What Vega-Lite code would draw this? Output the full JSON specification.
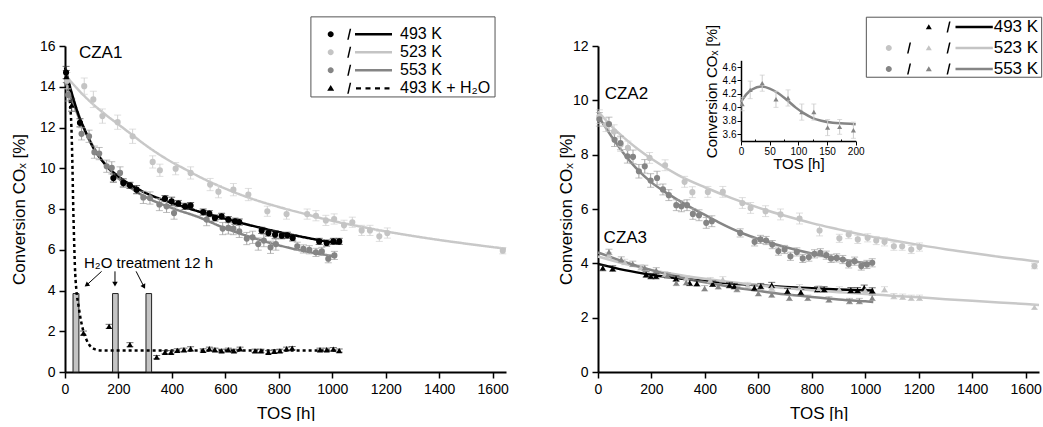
{
"$schema": "https://vega.github.io/schema/vega-lite/v6.json",
"background": "white",
"padding": {"left": 10, "top": 16, "right": 0, "bottom": 0},
"config": {
 "view": {"stroke": null},
 "font": "Liberation Sans",
 "axis": {"domainColor": "#000000", "domainWidth": 2, "tickColor": "#000000", "tickWidth": 1.5, "labelColor": "#000000", "labelFontSize": 14, "labelFont": "Liberation Sans", "titleFont": "Liberation Sans", "titleFontSize": 17, "titleFontWeight": "normal", "titleColor": "#000000", "grid": false, "labelFlush": false, "labelOverlap": false},
 "legend": {"labelFont": "Liberation Sans", "labelColor": "#000000"}
},
"datasets": {
 "bars": [{"start": 30, "end": 52}, {"start": 178, "end": 199}, {"start": 303, "end": 324}],
 "lpts": [
  {"s":"493 K","t":4,"v":14.7,"e":0.3},{"s":"493 K","t":56,"v":12.23,"e":0.2},{"s":"493 K","t":181,"v":9.52,"e":0.2},{"s":"493 K","t":218,"v":9.28,"e":0.2},{"s":"493 K","t":243,"v":9.16,"e":0.15},{"s":"493 K","t":268,"v":8.95,"e":0.2},{"s":"493 K","t":374,"v":8.51,"e":0.15},{"s":"493 K","t":399,"v":8.38,"e":0.2},{"s":"493 K","t":424,"v":8.27,"e":0.15},{"s":"493 K","t":449,"v":8.13,"e":0.15},{"s":"493 K","t":470,"v":8.17,"e":0.15},{"s":"493 K","t":517,"v":7.85,"e":0.15},{"s":"493 K","t":540,"v":7.77,"e":0.15},{"s":"493 K","t":561,"v":7.56,"e":0.15},{"s":"493 K","t":586,"v":7.64,"e":0.15},{"s":"493 K","t":611,"v":7.48,"e":0.15},{"s":"493 K","t":636,"v":7.4,"e":0.15},{"s":"493 K","t":652,"v":7.36,"e":0.15},{"s":"493 K","t":736,"v":6.95,"e":0.15},{"s":"493 K","t":761,"v":6.82,"e":0.15},{"s":"493 K","t":786,"v":6.74,"e":0.2},{"s":"493 K","t":811,"v":6.69,"e":0.15},{"s":"493 K","t":832,"v":6.71,"e":0.15},{"s":"493 K","t":852,"v":6.58,"e":0.15},{"s":"493 K","t":951,"v":6.41,"e":0.15},{"s":"493 K","t":979,"v":6.33,"e":0.15},{"s":"493 K","t":1004,"v":6.41,"e":0.15},{"s":"493 K","t":1026,"v":6.41,"e":0.15},
  {"s":"523 K","t":8,"v":14.3,"e":0.4},{"s":"523 K","t":72,"v":14.03,"e":0.4},{"s":"523 K","t":106,"v":13.38,"e":0.4},{"s":"523 K","t":140,"v":12.56,"e":0.35},{"s":"523 K","t":197,"v":12.26,"e":0.35},{"s":"523 K","t":253,"v":11.57,"e":0.35},{"s":"523 K","t":328,"v":10.31,"e":0.3},{"s":"523 K","t":355,"v":9.9,"e":0.3},{"s":"523 K","t":414,"v":9.98,"e":0.3},{"s":"523 K","t":470,"v":9.77,"e":0.3},{"s":"523 K","t":543,"v":9.2,"e":0.3},{"s":"523 K","t":574,"v":8.85,"e":0.3},{"s":"523 K","t":630,"v":8.95,"e":0.3},{"s":"523 K","t":686,"v":8.71,"e":0.3},{"s":"523 K","t":757,"v":7.89,"e":0.25},{"s":"523 K","t":829,"v":7.75,"e":0.25},{"s":"523 K","t":906,"v":7.75,"e":0.25},{"s":"523 K","t":939,"v":7.67,"e":0.25},{"s":"523 K","t":976,"v":7.44,"e":0.25},{"s":"523 K","t":1007,"v":7.51,"e":0.25},{"s":"523 K","t":1044,"v":7.2,"e":0.25},{"s":"523 K","t":1075,"v":7.35,"e":0.25},{"s":"523 K","t":1110,"v":6.95,"e":0.25},{"s":"523 K","t":1141,"v":6.95,"e":0.25},{"s":"523 K","t":1176,"v":6.66,"e":0.25},{"s":"523 K","t":1206,"v":6.82,"e":0.25},{"s":"523 K","t":1638,"v":5.95,"e":0.15},
  {"s":"553 K","t":12,"v":13.6,"e":0.3},{"s":"553 K","t":62,"v":11.69,"e":0.3},{"s":"553 K","t":90,"v":11.57,"e":0.3},{"s":"553 K","t":110,"v":10.79,"e":0.3},{"s":"553 K","t":128,"v":10.72,"e":0.3},{"s":"553 K","t":156,"v":10.1,"e":0.3},{"s":"553 K","t":175,"v":10.02,"e":0.3},{"s":"553 K","t":206,"v":9.77,"e":0.3},{"s":"553 K","t":293,"v":8.57,"e":0.3},{"s":"553 K","t":318,"v":8.54,"e":0.3},{"s":"553 K","t":353,"v":8.22,"e":0.3},{"s":"553 K","t":380,"v":8.13,"e":0.3},{"s":"553 K","t":408,"v":7.8,"e":0.3},{"s":"553 K","t":530,"v":7.48,"e":0.3},{"s":"553 K","t":590,"v":7.04,"e":0.3},{"s":"553 K","t":611,"v":7.07,"e":0.3},{"s":"553 K","t":630,"v":7.04,"e":0.3},{"s":"553 K","t":652,"v":6.9,"e":0.3},{"s":"553 K","t":680,"v":6.55,"e":0.3},{"s":"553 K","t":702,"v":6.61,"e":0.3},{"s":"553 K","t":723,"v":6.28,"e":0.3},{"s":"553 K","t":744,"v":6.45,"e":0.3},{"s":"553 K","t":769,"v":6.12,"e":0.3},{"s":"553 K","t":789,"v":6.28,"e":0.3},{"s":"553 K","t":869,"v":6.17,"e":0.2},{"s":"553 K","t":892,"v":6.04,"e":0.2},{"s":"553 K","t":914,"v":6.0,"e":0.2},{"s":"553 K","t":939,"v":5.87,"e":0.2},{"s":"553 K","t":961,"v":5.92,"e":0.2},{"s":"553 K","t":985,"v":5.56,"e":0.2},{"s":"553 K","t":1008,"v":5.72,"e":0.2},
  {"s":"493 K + H\u2082O","t":5,"v":14.5,"e":0.3},{"s":"493 K + H\u2082O","t":25,"v":13.1,"e":0.3},{"s":"493 K + H\u2082O","t":69,"v":1.91,"e":0.1},{"s":"493 K + H\u2082O","t":165,"v":2.24,"e":0.1},{"s":"493 K + H\u2082O","t":243,"v":1.34,"e":0.1},{"s":"493 K + H\u2082O","t":343,"v":0.73,"e":0.08},{"s":"493 K + H\u2082O","t":374,"v":0.97,"e":0.08},{"s":"493 K + H\u2082O","t":397,"v":0.97,"e":0.08},{"s":"493 K + H\u2082O","t":420,"v":1.06,"e":0.08},{"s":"493 K + H\u2082O","t":445,"v":1.09,"e":0.08},{"s":"493 K + H\u2082O","t":470,"v":1.14,"e":0.1},{"s":"493 K + H\u2082O","t":517,"v":1.06,"e":0.08},{"s":"493 K + H\u2082O","t":540,"v":1.14,"e":0.08},{"s":"493 K + H\u2082O","t":561,"v":1.09,"e":0.08},{"s":"493 K + H\u2082O","t":586,"v":1.04,"e":0.08},{"s":"493 K + H\u2082O","t":611,"v":1.09,"e":0.08},{"s":"493 K + H\u2082O","t":632,"v":1.04,"e":0.08},{"s":"493 K + H\u2082O","t":655,"v":1.14,"e":0.08},{"s":"493 K + H\u2082O","t":711,"v":1.04,"e":0.08},{"s":"493 K + H\u2082O","t":733,"v":1.04,"e":0.08},{"s":"493 K + H\u2082O","t":761,"v":0.97,"e":0.08},{"s":"493 K + H\u2082O","t":783,"v":1.01,"e":0.08},{"s":"493 K + H\u2082O","t":804,"v":1.04,"e":0.08},{"s":"493 K + H\u2082O","t":829,"v":1.14,"e":0.08},{"s":"493 K + H\u2082O","t":850,"v":1.17,"e":0.08},{"s":"493 K + H\u2082O","t":954,"v":1.09,"e":0.08},{"s":"493 K + H\u2082O","t":979,"v":1.09,"e":0.08},{"s":"493 K + H\u2082O","t":1004,"v":1.12,"e":0.08},{"s":"493 K + H\u2082O","t":1026,"v":1.05,"e":0.08}
 ],
 "lfit": [
  {"s":"523 K","t":0,"v":14.6},{"s":"523 K","t":50,"v":13.85},{"s":"523 K","t":100,"v":13.2},{"s":"523 K","t":150,"v":12.65},{"s":"523 K","t":200,"v":12.15},{"s":"523 K","t":250,"v":11.65},{"s":"523 K","t":300,"v":11.15},{"s":"523 K","t":350,"v":10.7},{"s":"523 K","t":400,"v":10.3},{"s":"523 K","t":450,"v":9.95},{"s":"523 K","t":500,"v":9.6},{"s":"523 K","t":600,"v":9.0},{"s":"523 K","t":700,"v":8.5},{"s":"523 K","t":800,"v":8.1},{"s":"523 K","t":900,"v":7.75},{"s":"523 K","t":1000,"v":7.42},{"s":"523 K","t":1100,"v":7.15},{"s":"523 K","t":1200,"v":6.9},{"s":"523 K","t":1300,"v":6.68},{"s":"523 K","t":1400,"v":6.48},{"s":"523 K","t":1500,"v":6.3},{"s":"523 K","t":1600,"v":6.13},{"s":"523 K","t":1650,"v":6.05},
  {"s":"553 K","t":0,"v":14.3},{"s":"553 K","t":25,"v":13.4},{"s":"553 K","t":50,"v":12.55},{"s":"553 K","t":75,"v":11.85},{"s":"553 K","t":100,"v":11.2},{"s":"553 K","t":150,"v":10.2},{"s":"553 K","t":200,"v":9.5},{"s":"553 K","t":250,"v":9.0},{"s":"553 K","t":300,"v":8.6},{"s":"553 K","t":400,"v":8.05},{"s":"553 K","t":500,"v":7.6},{"s":"553 K","t":600,"v":7.05},{"s":"553 K","t":700,"v":6.6},{"s":"553 K","t":800,"v":6.22},{"s":"553 K","t":900,"v":5.92},{"s":"553 K","t":1000,"v":5.68},{"s":"553 K","t":1010,"v":5.65},
  {"s":"493 K","t":0,"v":14.95},{"s":"493 K","t":25,"v":13.7},{"s":"493 K","t":50,"v":12.65},{"s":"493 K","t":75,"v":11.85},{"s":"493 K","t":100,"v":11.15},{"s":"493 K","t":150,"v":10.2},{"s":"493 K","t":200,"v":9.6},{"s":"493 K","t":250,"v":9.15},{"s":"493 K","t":300,"v":8.8},{"s":"493 K","t":400,"v":8.3},{"s":"493 K","t":500,"v":7.88},{"s":"493 K","t":600,"v":7.52},{"s":"493 K","t":700,"v":7.18},{"s":"493 K","t":800,"v":6.87},{"s":"493 K","t":900,"v":6.6},{"s":"493 K","t":1000,"v":6.36},{"s":"493 K","t":1030,"v":6.3},
  {"s":"493 K + H\u2082O","t":0,"v":14.8},{"s":"493 K + H\u2082O","t":10,"v":14.2},{"s":"493 K + H\u2082O","t":18,"v":13.3},{"s":"493 K + H\u2082O","t":24,"v":12},{"s":"493 K + H\u2082O","t":28,"v":10},{"s":"493 K + H\u2082O","t":31,"v":8},{"s":"493 K + H\u2082O","t":34,"v":6.5},{"s":"493 K + H\u2082O","t":37,"v":5.2},{"s":"493 K + H\u2082O","t":42,"v":4.1},{"s":"493 K + H\u2082O","t":50,"v":3.3},{"s":"493 K + H\u2082O","t":60,"v":2.5},{"s":"493 K + H\u2082O","t":70,"v":1.95},{"s":"493 K + H\u2082O","t":80,"v":1.6},{"s":"493 K + H\u2082O","t":90,"v":1.35},{"s":"493 K + H\u2082O","t":100,"v":1.2},{"s":"493 K + H\u2082O","t":115,"v":1.1},{"s":"493 K + H\u2082O","t":130,"v":1.06},{"s":"493 K + H\u2082O","t":150,"v":1.05},{"s":"493 K + H\u2082O","t":1030,"v":1.05}
 ],
 "rpts": [
  {"g":"CZA2","s":"523 K","t":5,"v":9.4,"e":0.25},{"g":"CZA2","s":"523 K","t":30,"v":9.1,"e":0.25},{"g":"CZA2","s":"523 K","t":60,"v":8.85,"e":0.25},{"g":"CZA2","s":"523 K","t":85,"v":8.37,"e":0.25},{"g":"CZA2","s":"523 K","t":112,"v":8.25,"e":0.25},{"g":"CZA2","s":"523 K","t":193,"v":7.88,"e":0.2},{"g":"CZA2","s":"523 K","t":251,"v":7.61,"e":0.2},{"g":"CZA2","s":"523 K","t":324,"v":7.0,"e":0.2},{"g":"CZA2","s":"523 K","t":353,"v":6.62,"e":0.2},{"g":"CZA2","s":"523 K","t":411,"v":6.63,"e":0.2},{"g":"CZA2","s":"523 K","t":467,"v":6.63,"e":0.2},{"g":"CZA2","s":"523 K","t":540,"v":6.22,"e":0.2},{"g":"CZA2","s":"523 K","t":571,"v":6.04,"e":0.2},{"g":"CZA2","s":"523 K","t":627,"v":5.92,"e":0.2},{"g":"CZA2","s":"523 K","t":683,"v":5.8,"e":0.2},{"g":"CZA2","s":"523 K","t":754,"v":5.65,"e":0.2},{"g":"CZA2","s":"523 K","t":829,"v":5.21,"e":0.2},{"g":"CZA2","s":"523 K","t":903,"v":4.92,"e":0.15},{"g":"CZA2","s":"523 K","t":938,"v":5.06,"e":0.15},{"g":"CZA2","s":"523 K","t":972,"v":4.88,"e":0.15},{"g":"CZA2","s":"523 K","t":1009,"v":4.94,"e":0.15},{"g":"CZA2","s":"523 K","t":1041,"v":4.84,"e":0.15},{"g":"CZA2","s":"523 K","t":1072,"v":4.79,"e":0.15},{"g":"CZA2","s":"523 K","t":1107,"v":4.63,"e":0.15},{"g":"CZA2","s":"523 K","t":1138,"v":4.63,"e":0.15},{"g":"CZA2","s":"523 K","t":1172,"v":4.51,"e":0.15},{"g":"CZA2","s":"523 K","t":1203,"v":4.6,"e":0.15},{"g":"CZA2","s":"523 K","t":1633,"v":3.9,"e":0.1},
  {"g":"CZA2","s":"553 K","t":5,"v":9.3,"e":0.25},{"g":"CZA2","s":"553 K","t":41,"v":9.13,"e":0.25},{"g":"CZA2","s":"553 K","t":62,"v":8.55,"e":0.25},{"g":"CZA2","s":"553 K","t":84,"v":8.43,"e":0.25},{"g":"CZA2","s":"553 K","t":110,"v":7.94,"e":0.25},{"g":"CZA2","s":"553 K","t":131,"v":7.92,"e":0.25},{"g":"CZA2","s":"553 K","t":153,"v":7.39,"e":0.25},{"g":"CZA2","s":"553 K","t":175,"v":7.57,"e":0.25},{"g":"CZA2","s":"553 K","t":197,"v":7.05,"e":0.25},{"g":"CZA2","s":"553 K","t":221,"v":7.14,"e":0.25},{"g":"CZA2","s":"553 K","t":243,"v":6.72,"e":0.2},{"g":"CZA2","s":"553 K","t":265,"v":6.51,"e":0.2},{"g":"CZA2","s":"553 K","t":293,"v":6.14,"e":0.2},{"g":"CZA2","s":"553 K","t":312,"v":6.1,"e":0.2},{"g":"CZA2","s":"553 K","t":333,"v":6.14,"e":0.2},{"g":"CZA2","s":"553 K","t":355,"v":5.82,"e":0.2},{"g":"CZA2","s":"553 K","t":378,"v":5.77,"e":0.2},{"g":"CZA2","s":"553 K","t":405,"v":5.49,"e":0.2},{"g":"CZA2","s":"553 K","t":426,"v":5.55,"e":0.2},{"g":"CZA2","s":"553 K","t":532,"v":5.12,"e":0.15},{"g":"CZA2","s":"553 K","t":586,"v":4.79,"e":0.15},{"g":"CZA2","s":"553 K","t":608,"v":4.88,"e":0.15},{"g":"CZA2","s":"553 K","t":629,"v":4.84,"e":0.15},{"g":"CZA2","s":"553 K","t":652,"v":4.69,"e":0.15},{"g":"CZA2","s":"553 K","t":675,"v":4.45,"e":0.15},{"g":"CZA2","s":"553 K","t":698,"v":4.51,"e":0.15},{"g":"CZA2","s":"553 K","t":720,"v":4.26,"e":0.15},{"g":"CZA2","s":"553 K","t":744,"v":4.42,"e":0.15},{"g":"CZA2","s":"553 K","t":766,"v":4.18,"e":0.15},{"g":"CZA2","s":"553 K","t":789,"v":4.23,"e":0.15},{"g":"CZA2","s":"553 K","t":810,"v":4.35,"e":0.15},{"g":"CZA2","s":"553 K","t":832,"v":4.39,"e":0.15},{"g":"CZA2","s":"553 K","t":854,"v":4.3,"e":0.15},{"g":"CZA2","s":"553 K","t":872,"v":4.18,"e":0.15},{"g":"CZA2","s":"553 K","t":893,"v":4.2,"e":0.15},{"g":"CZA2","s":"553 K","t":916,"v":4.14,"e":0.15},{"g":"CZA2","s":"553 K","t":938,"v":3.98,"e":0.15},{"g":"CZA2","s":"553 K","t":960,"v":4.08,"e":0.15},{"g":"CZA2","s":"553 K","t":985,"v":3.9,"e":0.15},{"g":"CZA2","s":"553 K","t":1006,"v":3.96,"e":0.15},{"g":"CZA2","s":"553 K","t":1026,"v":4.02,"e":0.15},
  {"g":"CZA3","s":"493 K","t":18,"v":3.83,"e":0.1},{"g":"CZA3","s":"493 K","t":55,"v":3.81,"e":0.1},{"g":"CZA3","s":"493 K","t":180,"v":3.59,"e":0.1},{"g":"CZA3","s":"493 K","t":198,"v":3.53,"e":0.1},{"g":"CZA3","s":"493 K","t":217,"v":3.53,"e":0.1},{"g":"CZA3","s":"493 K","t":292,"v":3.44,"e":0.1},{"g":"CZA3","s":"493 K","t":343,"v":3.28,"e":0.1},{"g":"CZA3","s":"493 K","t":370,"v":3.26,"e":0.1},{"g":"CZA3","s":"493 K","t":429,"v":3.25,"e":0.1},{"g":"CZA3","s":"493 K","t":492,"v":3.2,"e":0.1},{"g":"CZA3","s":"493 K","t":510,"v":3.16,"e":0.1},{"g":"CZA3","s":"493 K","t":585,"v":3.1,"e":0.1},{"g":"CZA3","s":"493 K","t":609,"v":3.16,"e":0.1},{"g":"CZA3","s":"493 K","t":650,"v":3.2,"e":0.1},{"g":"CZA3","s":"493 K","t":709,"v":2.98,"e":0.1},{"g":"CZA3","s":"493 K","t":759,"v":2.94,"e":0.1},{"g":"CZA3","s":"493 K","t":821,"v":3.04,"e":0.1},{"g":"CZA3","s":"493 K","t":846,"v":3.04,"e":0.1},{"g":"CZA3","s":"493 K","t":946,"v":3.01,"e":0.1},{"g":"CZA3","s":"493 K","t":971,"v":3.01,"e":0.1},{"g":"CZA3","s":"493 K","t":996,"v":3.1,"e":0.1},{"g":"CZA3","s":"493 K","t":1026,"v":3.0,"e":0.1},
  {"g":"CZA3","s":"523 K","t":40,"v":4.3,"e":0.1},{"g":"CZA3","s":"523 K","t":100,"v":4.05,"e":0.1},{"g":"CZA3","s":"523 K","t":160,"v":3.85,"e":0.1},{"g":"CZA3","s":"523 K","t":250,"v":3.6,"e":0.1},{"g":"CZA3","s":"523 K","t":330,"v":3.45,"e":0.1},{"g":"CZA3","s":"523 K","t":420,"v":3.38,"e":0.1},{"g":"CZA3","s":"523 K","t":467,"v":3.41,"e":0.1},{"g":"CZA3","s":"523 K","t":560,"v":3.2,"e":0.1},{"g":"CZA3","s":"523 K","t":650,"v":3.1,"e":0.1},{"g":"CZA3","s":"523 K","t":754,"v":3.12,"e":0.1},{"g":"CZA3","s":"523 K","t":826,"v":3.08,"e":0.1},{"g":"CZA3","s":"523 K","t":903,"v":3.04,"e":0.1},{"g":"CZA3","s":"523 K","t":1000,"v":3.0,"e":0.1},{"g":"CZA3","s":"523 K","t":1072,"v":3.04,"e":0.1},{"g":"CZA3","s":"523 K","t":1107,"v":2.79,"e":0.1},{"g":"CZA3","s":"523 K","t":1140,"v":2.77,"e":0.1},{"g":"CZA3","s":"523 K","t":1172,"v":2.73,"e":0.1},{"g":"CZA3","s":"523 K","t":1203,"v":2.73,"e":0.1},{"g":"CZA3","s":"523 K","t":1633,"v":2.39,"e":0.08},
  {"g":"CZA3","s":"553 K","t":41,"v":4.42,"e":0.1},{"g":"CZA3","s":"553 K","t":87,"v":4.14,"e":0.1},{"g":"CZA3","s":"553 K","t":130,"v":3.98,"e":0.1},{"g":"CZA3","s":"553 K","t":175,"v":3.83,"e":0.1},{"g":"CZA3","s":"553 K","t":218,"v":3.74,"e":0.1},{"g":"CZA3","s":"553 K","t":260,"v":3.55,"e":0.1},{"g":"CZA3","s":"553 K","t":293,"v":3.28,"e":0.1},{"g":"CZA3","s":"553 K","t":330,"v":3.3,"e":0.1},{"g":"CZA3","s":"553 K","t":399,"v":3.08,"e":0.1},{"g":"CZA3","s":"553 K","t":450,"v":3.15,"e":0.1},{"g":"CZA3","s":"553 K","t":520,"v":3.05,"e":0.1},{"g":"CZA3","s":"553 K","t":600,"v":2.9,"e":0.1},{"g":"CZA3","s":"553 K","t":650,"v":2.85,"e":0.1},{"g":"CZA3","s":"553 K","t":716,"v":2.73,"e":0.1},{"g":"CZA3","s":"553 K","t":785,"v":2.73,"e":0.1},{"g":"CZA3","s":"553 K","t":864,"v":2.67,"e":0.1},{"g":"CZA3","s":"553 K","t":941,"v":2.61,"e":0.1},{"g":"CZA3","s":"553 K","t":978,"v":2.61,"e":0.1},{"g":"CZA3","s":"553 K","t":1026,"v":2.73,"e":0.1}
 ],
 "rfit": [
  {"g":"CZA2","s":"523 K","t":0,"v":9.6},{"g":"CZA2","s":"523 K","t":50,"v":9.05},{"g":"CZA2","s":"523 K","t":100,"v":8.6},{"g":"CZA2","s":"523 K","t":150,"v":8.2},{"g":"CZA2","s":"523 K","t":200,"v":7.85},{"g":"CZA2","s":"523 K","t":300,"v":7.25},{"g":"CZA2","s":"523 K","t":400,"v":6.8},{"g":"CZA2","s":"523 K","t":500,"v":6.4},{"g":"CZA2","s":"523 K","t":600,"v":6.05},{"g":"CZA2","s":"523 K","t":700,"v":5.75},{"g":"CZA2","s":"523 K","t":800,"v":5.48},{"g":"CZA2","s":"523 K","t":900,"v":5.25},{"g":"CZA2","s":"523 K","t":1000,"v":5.03},{"g":"CZA2","s":"523 K","t":1100,"v":4.85},{"g":"CZA2","s":"523 K","t":1200,"v":4.68},{"g":"CZA2","s":"523 K","t":1300,"v":4.52},{"g":"CZA2","s":"523 K","t":1400,"v":4.38},{"g":"CZA2","s":"523 K","t":1500,"v":4.24},{"g":"CZA2","s":"523 K","t":1600,"v":4.12},{"g":"CZA2","s":"523 K","t":1650,"v":4.06},
  {"g":"CZA2","s":"553 K","t":0,"v":9.45},{"g":"CZA2","s":"553 K","t":25,"v":9.05},{"g":"CZA2","s":"553 K","t":50,"v":8.68},{"g":"CZA2","s":"553 K","t":75,"v":8.33},{"g":"CZA2","s":"553 K","t":100,"v":8.0},{"g":"CZA2","s":"553 K","t":125,"v":7.7},{"g":"CZA2","s":"553 K","t":150,"v":7.43},{"g":"CZA2","s":"553 K","t":200,"v":6.98},{"g":"CZA2","s":"553 K","t":250,"v":6.63},{"g":"CZA2","s":"553 K","t":300,"v":6.33},{"g":"CZA2","s":"553 K","t":350,"v":6.04},{"g":"CZA2","s":"553 K","t":400,"v":5.78},{"g":"CZA2","s":"553 K","t":450,"v":5.52},{"g":"CZA2","s":"553 K","t":500,"v":5.28},{"g":"CZA2","s":"553 K","t":550,"v":5.07},{"g":"CZA2","s":"553 K","t":600,"v":4.9},{"g":"CZA2","s":"553 K","t":700,"v":4.6},{"g":"CZA2","s":"553 K","t":800,"v":4.36},{"g":"CZA2","s":"553 K","t":900,"v":4.17},{"g":"CZA2","s":"553 K","t":1000,"v":4.01},{"g":"CZA2","s":"553 K","t":1030,"v":3.98},
  {"g":"CZA3","s":"493 K","t":0,"v":3.98},{"g":"CZA3","s":"493 K","t":100,"v":3.75},{"g":"CZA3","s":"493 K","t":200,"v":3.58},{"g":"CZA3","s":"493 K","t":300,"v":3.45},{"g":"CZA3","s":"493 K","t":400,"v":3.35},{"g":"CZA3","s":"493 K","t":500,"v":3.26},{"g":"CZA3","s":"493 K","t":600,"v":3.19},{"g":"CZA3","s":"493 K","t":700,"v":3.13},{"g":"CZA3","s":"493 K","t":800,"v":3.08},{"g":"CZA3","s":"493 K","t":900,"v":3.04},{"g":"CZA3","s":"493 K","t":1000,"v":3.01},{"g":"CZA3","s":"493 K","t":1030,"v":3.0},
  {"g":"CZA3","s":"523 K","t":0,"v":4.25},{"g":"CZA3","s":"523 K","t":100,"v":3.98},{"g":"CZA3","s":"523 K","t":200,"v":3.76},{"g":"CZA3","s":"523 K","t":300,"v":3.58},{"g":"CZA3","s":"523 K","t":400,"v":3.43},{"g":"CZA3","s":"523 K","t":500,"v":3.3},{"g":"CZA3","s":"523 K","t":600,"v":3.19},{"g":"CZA3","s":"523 K","t":700,"v":3.09},{"g":"CZA3","s":"523 K","t":800,"v":3.01},{"g":"CZA3","s":"523 K","t":900,"v":2.94},{"g":"CZA3","s":"523 K","t":1000,"v":2.87},{"g":"CZA3","s":"523 K","t":1100,"v":2.81},{"g":"CZA3","s":"523 K","t":1200,"v":2.75},{"g":"CZA3","s":"523 K","t":1300,"v":2.68},{"g":"CZA3","s":"523 K","t":1400,"v":2.62},{"g":"CZA3","s":"523 K","t":1500,"v":2.56},{"g":"CZA3","s":"523 K","t":1600,"v":2.5},{"g":"CZA3","s":"523 K","t":1650,"v":2.47},
  {"g":"CZA3","s":"553 K","t":0,"v":4.4},{"g":"CZA3","s":"553 K","t":100,"v":4.05},{"g":"CZA3","s":"553 K","t":200,"v":3.75},{"g":"CZA3","s":"553 K","t":300,"v":3.5},{"g":"CZA3","s":"553 K","t":400,"v":3.3},{"g":"CZA3","s":"553 K","t":500,"v":3.13},{"g":"CZA3","s":"553 K","t":600,"v":2.99},{"g":"CZA3","s":"553 K","t":700,"v":2.86},{"g":"CZA3","s":"553 K","t":800,"v":2.76},{"g":"CZA3","s":"553 K","t":900,"v":2.67},{"g":"CZA3","s":"553 K","t":1000,"v":2.6},{"g":"CZA3","s":"553 K","t":1030,"v":2.58}
 ],
 "ipts": [{"t":2,"v":4.05,"e":0.1},{"t":16,"v":4.26,"e":0.13},{"t":37,"v":4.36,"e":0.12},{"t":61,"v":4.12,"e":0.12},{"t":82,"v":4.14,"e":0.12},{"t":106,"v":3.93,"e":0.12},{"t":127,"v":3.93,"e":0.12},{"t":151,"v":3.7,"e":0.12},{"t":172,"v":3.71,"e":0.11},{"t":196,"v":3.66,"e":0.12}],
 "ifit": [{"t":0,"v":4.08},{"t":10,"v":4.2},{"t":20,"v":4.27},{"t":35,"v":4.31},{"t":50,"v":4.28},{"t":65,"v":4.21},{"t":80,"v":4.11},{"t":95,"v":4.0},{"t":110,"v":3.91},{"t":125,"v":3.84},{"t":140,"v":3.8},{"t":160,"v":3.77},{"t":180,"v":3.76},{"t":200,"v":3.75}]
},
"bounds": "flush",
"spacing": 92,
"resolve": {"scale": {"color": "independent", "shape": "independent", "strokeDash": "independent"}},
"hconcat": [
 {
  "width": 441, "height": 326,
  "resolve": {"scale": {"color": "independent", "shape": "independent", "strokeDash": "independent"}},
  "layer": [
   {"data": {"name": "bars"}, "mark": {"type": "rect", "fill": "#c4c4c4", "stroke": "#222222", "strokeWidth": 1},
    "encoding": {"x": {"field": "start", "type": "quantitative", "title": "TOS [h]"}, "x2": {"field": "end"}, "y": {"datum": 0}, "y2": {"datum": 3.85}}},
   {"data": {"name": "lfit"}, "mark": {"type": "line", "strokeWidth": 2.5, "interpolate": "monotone"},
    "encoding": {
     "x": {"field": "t", "type": "quantitative", "scale": {"domain": [0, 1650], "nice": false, "zero": false},
      "axis": {"title": "TOS [h]", "format": "d", "values": [0,100,200,300,400,500,600,700,800,900,1000,1100,1200,1300,1400,1500,1600], "labelExpr": "datum.value % 200 == 0 ? datum.label : ''", "tickSize": {"condition": {"test": "datum.value % 200 != 0", "value": -4}, "value": 6}, "labelPadding": 4, "titlePadding": 9}},
     "y": {"field": "v", "type": "quantitative", "scale": {"domain": [0, 16], "nice": false},
      "axis": {"title": "Conversion CO\u2093 [%]", "format": "d", "values": [0,1,2,3,4,5,6,7,8,9,10,11,12,13,14,15,16], "labelExpr": "datum.value % 2 == 0 ? datum.label : ''", "tickSize": {"condition": {"test": "datum.value % 2 != 0", "value": -4}, "value": 6}, "labelPadding": 4, "titlePadding": 11}},
     "color": {"field": "s", "type": "nominal", "scale": {"domain": ["493 K","523 K","553 K","493 K + H\u2082O"], "range": ["#000000","#c8c8c8","#858585","#000000"]}, "legend": null},
     "strokeDash": {"field": "s", "type": "nominal", "scale": {"domain": ["493 K","523 K","553 K","493 K + H\u2082O"], "range": [[1,0],[1,0],[1,0],[3,3]]}, "legend": null}
    }},
   {"data": {"name": "lpts"}, "mark": {"type": "errorbar", "ticks": {"size": 7}, "thickness": 1},
    "encoding": {"x": {"field": "t", "type": "quantitative", "title": "TOS [h]"}, "y": {"field": "v", "type": "quantitative", "title": "Conversion CO\u2093 [%]"}, "yError": {"field": "e"},
     "color": {"field": "s", "type": "nominal", "scale": {"domain": ["493 K","523 K","553 K","493 K + H\u2082O"], "range": ["#333333","#d2d2d2","#a2a2a2","#333333"]}, "legend": null}}},
   {"data": {"name": "lpts"}, "mark": {"type": "point", "filled": true, "opacity": 1, "size": 38, "strokeWidth": 0},
    "encoding": {"x": {"field": "t", "type": "quantitative", "title": "TOS [h]"}, "y": {"field": "v", "type": "quantitative", "title": "Conversion CO\u2093 [%]"},
     "color": {"field": "s", "type": "nominal", "scale": {"domain": ["493 K","523 K","553 K","493 K + H\u2082O"], "range": ["#000000","#c4c4c4","#858585","#000000"]}, "legend": null},
     "shape": {"field": "s", "type": "nominal", "scale": {"domain": ["493 K","523 K","553 K","493 K + H\u2082O"], "range": ["circle","circle","circle","triangle-up"]}, "legend": null}}},
   {"data": {"values": [{}]}, "mark": {"type": "text", "align": "left", "baseline": "middle", "fontSize": 17, "color": "#000000"},
    "encoding": {"x": {"datum": 52}, "y": {"datum": 15.68}, "text": {"value": "CZA1"}}},
   {"data": {"values": [{}]}, "mark": {"type": "text", "align": "left", "baseline": "middle", "fontSize": 15, "color": "#000000"},
    "encoding": {"x": {"datum": 71}, "y": {"datum": 5.33}, "text": {"value": "H\u2082O treatment 12 h"}}},
   {"data": {"values": [{}]}, "mark": {"type": "rule", "color": "#000000", "strokeWidth": 1},
    "encoding": {"x": {"datum": 137}, "y": {"datum": 4.94}, "x2": {"datum": 83}, "y2": {"datum": 4.29}}},
   {"data": {"values": [{}]}, "mark": {"type": "rule", "color": "#000000", "strokeWidth": 1},
    "encoding": {"x": {"datum": 187}, "y": {"datum": 4.94}, "x2": {"datum": 187}, "y2": {"datum": 4.35}}},
   {"data": {"values": [{}]}, "mark": {"type": "rule", "color": "#000000", "strokeWidth": 1},
    "encoding": {"x": {"datum": 266}, "y": {"datum": 4.94}, "x2": {"datum": 294}, "y2": {"datum": 4.22}}},
   {"data": {"values": [{}]}, "mark": {"type": "point", "shape": "triangle", "filled": true, "size": 30, "color": "#000000", "opacity": 1},
    "encoding": {"x": {"datum": 83}, "y": {"datum": 4.29}, "angle": {"value": 232}}},
   {"data": {"values": [{}]}, "mark": {"type": "point", "shape": "triangle", "filled": true, "size": 30, "color": "#000000", "opacity": 1},
    "encoding": {"x": {"datum": 187}, "y": {"datum": 4.35}, "angle": {"value": 180}}},
   {"data": {"values": [{}]}, "mark": {"type": "point", "shape": "triangle", "filled": true, "size": 30, "color": "#000000", "opacity": 1},
    "encoding": {"x": {"datum": 294}, "y": {"datum": 4.22}, "angle": {"value": 152}}},
   {"data": {"values": [{}]}, "mark": {"type": "rect", "fill": "#ffffff", "fillOpacity": 0, "stroke": "#555555", "strokeWidth": 1},
    "encoding": {"x": {"datum": 920}, "x2": {"datum": 1609}, "y": {"datum": 17.43}, "y2": {"datum": 13.5}}},
   {"data": {"name": "lfit"}, "transform": [{"filter": "false"}], "mark": {"type": "point", "filled": true, "opacity": 1},
    "encoding": {
     "color": {"field": "s", "type": "nominal", "scale": {"domain": ["493 K","523 K","553 K","493 K + H\u2082O"], "range": ["#000000","#c4c4c4","#858585","#000000"]},
      "legend": {"orient": "none", "legendX": 257.7, "legendY": -19.7, "title": null, "symbolSize": 100, "symbolStrokeWidth": 0, "symbolOpacity": 1, "labelFontSize": 16, "labelOffset": 61.3, "rowPadding": 2, "padding": 0, "labelColor": "#000000"}},
     "shape": {"field": "s", "type": "nominal", "scale": {"domain": ["493 K","523 K","553 K","493 K + H\u2082O"], "range": [
      "M-0.6,0A0.6,0.6,0,1,0,0.6,0A0.6,0.6,0,1,0,-0.6,0ZM4.86,-0.25H12.26V0.25H4.86Z",
      "M-0.6,0A0.6,0.6,0,1,0,0.6,0A0.6,0.6,0,1,0,-0.6,0ZM4.86,-0.25H12.26V0.25H4.86Z",
      "M-0.6,0A0.6,0.6,0,1,0,0.6,0A0.6,0.6,0,1,0,-0.6,0ZM4.86,-0.25H12.26V0.25H4.86Z",
      "M0,-0.65L0.7,0.5L-0.7,0.5ZM5.06,-0.22H6.06V0.22H5.06ZM6.96,-0.22H7.96V0.22H6.96ZM8.86,-0.22H9.86V0.22H8.86ZM10.76,-0.22H11.76V0.22H10.76Z"]}}
    }},
   {"data": {"name": "lfit"}, "transform": [{"filter": "false"}], "mark": {"type": "point", "filled": true, "opacity": 1},
    "encoding": {
     "color": {"field": "s", "type": "nominal", "scale": {"domain": ["493 K","523 K","553 K","493 K + H\u2082O"], "range": ["#000000","#000000","#000000","#000000"]},
      "legend": {"orient": "none", "legendX": 257.7, "legendY": -19.7, "title": null, "symbolSize": 100, "symbolStrokeWidth": 0, "symbolOpacity": 1, "labelFontSize": 16, "labelOffset": 61.3, "rowPadding": 2, "padding": 0, "labelOpacity": 0}},
     "shape": {"field": "s", "type": "nominal", "scale": {"domain": ["493 K","523 K","553 K","493 K + H\u2082O"], "range": [
      "M3.3,1.1L3.6,1.1L4.1,-1.1L3.8,-1.1Z","M3.3,1.1L3.6,1.1L4.1,-1.1L3.8,-1.1Z","M3.3,1.1L3.6,1.1L4.1,-1.1L3.8,-1.1Z","M3.3,1.1L3.6,1.1L4.1,-1.1L3.8,-1.1Z"]}}
    }}
  ]
 },
 {
  "width": 441, "height": 326,
  "resolve": {"scale": {"x": "independent", "y": "independent", "color": "independent", "shape": "independent"}, "axis": {"x": "independent", "y": "independent"}},
  "layer": [
   {
    "resolve": {"scale": {"color": "independent", "shape": "independent"}},
    "layer": [
     {"data": {"name": "rfit"}, "mark": {"type": "line", "strokeWidth": 2.5, "interpolate": "monotone"},
      "encoding": {
       "x": {"field": "t", "type": "quantitative", "scale": {"domain": [0, 1650], "nice": false, "zero": false},
        "axis": {"title": "TOS [h]", "orient": "bottom", "format": "d", "values": [0,100,200,300,400,500,600,700,800,900,1000,1100,1200,1300,1400,1500,1600], "labelExpr": "datum.value % 200 == 0 ? datum.label : ''", "tickSize": {"condition": {"test": "datum.value % 200 != 0", "value": -4}, "value": 6}, "labelPadding": 4, "titlePadding": 9}},
       "y": {"field": "v", "type": "quantitative", "scale": {"domain": [0, 12], "nice": false},
        "axis": {"title": "Conversion CO\u2093 [%]", "orient": "left", "format": "d", "values": [0,1,2,3,4,5,6,7,8,9,10,11,12], "labelExpr": "datum.value % 2 == 0 ? datum.label : ''", "tickSize": {"condition": {"test": "datum.value % 2 != 0", "value": -4}, "value": 6}, "labelPadding": 4, "titlePadding": -3}},
       "color": {"field": "s", "type": "nominal", "scale": {"domain": ["493 K","523 K","553 K"], "range": ["#000000","#c8c8c8","#858585"]}, "legend": null},
       "detail": {"field": "g", "type": "nominal"}
      }},
     {"data": {"name": "rpts"}, "mark": {"type": "errorbar", "ticks": {"size": 7}, "thickness": 1},
      "encoding": {"x": {"field": "t", "type": "quantitative", "title": "TOS [h]"}, "y": {"field": "v", "type": "quantitative", "title": "Conversion CO\u2093 [%]"}, "yError": {"field": "e"},
       "color": {"field": "s", "type": "nominal", "scale": {"domain": ["493 K","523 K","553 K"], "range": ["#333333","#d2d2d2","#a2a2a2"]}, "legend": null}}},
     {"data": {"name": "rpts"}, "mark": {"type": "point", "filled": true, "opacity": 1, "size": 38, "strokeWidth": 0},
      "encoding": {"x": {"field": "t", "type": "quantitative", "title": "TOS [h]"}, "y": {"field": "v", "type": "quantitative", "title": "Conversion CO\u2093 [%]"},
       "color": {"field": "s", "type": "nominal", "scale": {"domain": ["493 K","523 K","553 K"], "range": ["#000000","#c4c4c4","#858585"]}, "legend": null},
       "shape": {"field": "g", "type": "nominal", "scale": {"domain": ["CZA2","CZA3"], "range": ["circle","triangle-up"]}, "legend": null}}},
     {"data": {"values": [{}]}, "mark": {"type": "text", "align": "left", "baseline": "middle", "fontSize": 17, "color": "#000000"},
      "encoding": {"x": {"datum": 25}, "y": {"datum": 10.24}, "text": {"value": "CZA2"}}},
     {"data": {"values": [{}]}, "mark": {"type": "text", "align": "left", "baseline": "middle", "fontSize": 17, "color": "#000000"},
      "encoding": {"x": {"datum": 21}, "y": {"datum": 4.94}, "text": {"value": "CZA3"}}},
     {"data": {"values": [{}]}, "mark": {"type": "rect", "fill": "#ffffff", "fillOpacity": 0, "stroke": "#555555", "strokeWidth": 1},
      "encoding": {"x": {"datum": 1004}, "x2": {"datum": 1660}, "y": {"datum": 13.06}, "y2": {"datum": 10.85}}},
     {"data": {"name": "rfit"}, "transform": [{"filter": "false"}], "mark": {"type": "point", "filled": true, "opacity": 1},
      "encoding": {
       "color": {"field": "s", "type": "nominal", "scale": {"domain": ["493 K","523 K","553 K"], "range": ["#000000","#c4c4c4","#858585"]},
        "legend": {"orient": "none", "legendX": 282.3, "legendY": -27.5, "title": null, "symbolSize": 100, "symbolStrokeWidth": 0, "symbolOpacity": 1, "labelFontSize": 17, "labelOffset": 96.4, "rowPadding": 3, "padding": 0, "labelColor": "#000000"}},
       "shape": {"field": "s", "type": "nominal", "scale": {"domain": ["493 K","523 K","553 K"], "range": [
        "M8,-0.55L8.6,0.45L7.4,0.45ZM13.34,-0.25H20.8V0.25H13.34Z",
        "M-0.6,0A0.6,0.6,0,1,0,0.6,0A0.6,0.6,0,1,0,-0.6,0ZM8,-0.55L8.6,0.45L7.4,0.45ZM13.34,-0.25H20.8V0.25H13.34Z",
        "M-0.6,0A0.6,0.6,0,1,0,0.6,0A0.6,0.6,0,1,0,-0.6,0ZM8,-0.55L8.6,0.45L7.4,0.45ZM13.34,-0.25H20.8V0.25H13.34Z"]}}
      }},
     {"data": {"name": "rfit"}, "transform": [{"filter": "false"}], "mark": {"type": "point", "filled": true, "opacity": 1},
      "encoding": {
       "color": {"field": "s", "type": "nominal", "scale": {"domain": ["493 K","523 K","553 K"], "range": ["#000000","#000000","#000000"]},
        "legend": {"orient": "none", "legendX": 282.3, "legendY": -27.5, "title": null, "symbolSize": 100, "symbolStrokeWidth": 0, "symbolOpacity": 1, "labelFontSize": 17, "labelOffset": 96.4, "rowPadding": 3, "padding": 0, "labelOpacity": 0}},
       "shape": {"field": "s", "type": "nominal", "scale": {"domain": ["493 K","523 K","553 K"], "range": [
        "M11.55,1.1L11.85,1.1L12.35,-1.1L12.05,-1.1Z",
        "M3.65,1.1L3.95,1.1L4.45,-1.1L4.15,-1.1ZM11.55,1.1L11.85,1.1L12.35,-1.1L12.05,-1.1Z",
        "M3.65,1.1L3.95,1.1L4.45,-1.1L4.15,-1.1ZM11.55,1.1L11.85,1.1L12.35,-1.1L12.05,-1.1Z"]}}
      }}
    ]
   },
   {
    "layer": [
     {"data": {"name": "ifit"}, "mark": {"type": "line", "strokeWidth": 2.5, "interpolate": "monotone", "color": "#858585"},
      "encoding": {
       "x": {"field": "t", "type": "quantitative", "scale": {"domain": [0, 200], "range": [143, 257.7], "nice": false, "zero": false},
        "axis": {"title": "TOS [h]", "orient": "bottom", "offset": -231, "values": [0,25,50,75,100,125,150,175,200], "labelExpr": "datum.value % 50 == 0 ? datum.label : ''", "tickSize": {"condition": {"test": "datum.value % 50 != 0", "value": -2}, "value": 4}, "labelFontSize": 10, "titleFontSize": 15, "labelPadding": 1, "titlePadding": 0, "domainWidth": 1.5, "tickWidth": 1}},
       "y": {"field": "v", "type": "quantitative", "scale": {"domain": [3.5, 4.7], "range": [95, 14.3], "nice": false, "zero": false},
        "axis": {"title": "Conversion CO\u2093 [%]", "orient": "left", "offset": -143, "values": [3.6,3.7,3.8,3.9,4.0,4.1,4.2,4.3,4.4,4.5,4.6], "labelExpr": "round(datum.value*10) % 2 == 0 ? format(datum.value, '.1f') : ''", "tickSize": {"condition": {"test": "round(datum.value*10) % 2 != 0", "value": -2}, "value": 4}, "labelFontSize": 10, "titleFontSize": 15, "labelPadding": 1, "titlePadding": 3, "titleY": 45, "domainWidth": 1.5, "tickWidth": 1}}
      }},
     {"data": {"name": "ipts"}, "mark": {"type": "errorbar", "ticks": {"size": 5}, "thickness": 1, "color": "#cccccc"},
      "encoding": {"x": {"field": "t", "type": "quantitative", "title": "TOS [h]"}, "y": {"field": "v", "type": "quantitative", "title": "Conversion CO\u2093 [%]"}, "yError": {"field": "e"}}},
     {"data": {"name": "ipts"}, "mark": {"type": "point", "shape": "triangle-up", "filled": true, "opacity": 1, "size": 26, "color": "#858585", "strokeWidth": 0},
      "encoding": {"x": {"field": "t", "type": "quantitative", "title": "TOS [h]"}, "y": {"field": "v", "type": "quantitative", "title": "Conversion CO\u2093 [%]"}}}
    ]
   }
  ]
 }
]
}
